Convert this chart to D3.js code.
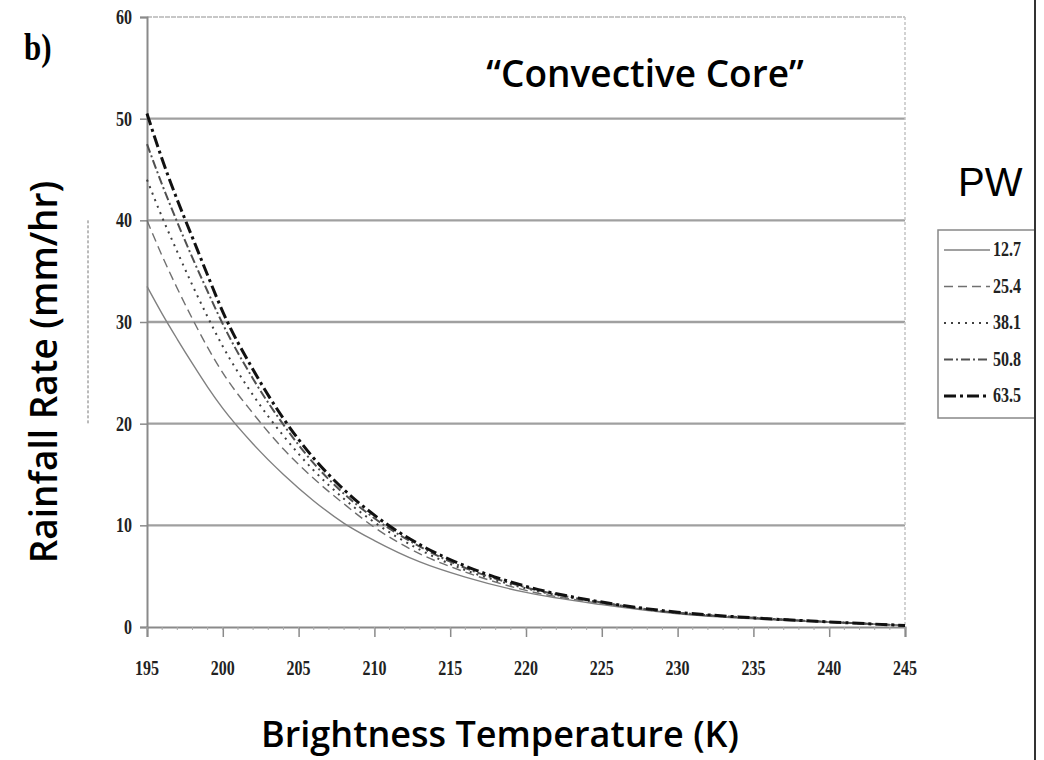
<!DOCTYPE html>
<html>
<head>
<meta charset="utf-8">
<script src="https://cdn.jsdelivr.net/npm/d3@7"></script>
<style>
  body { margin: 0; background: #fff; }
  svg { display: block; }
</style>
</head>
<body>
<svg id="chart" width="1044" height="760"></svg>
<script>
// brightness temperature (K) sample points
const temps = [195, 196, 197, 198, 199, 200, 202, 204, 206, 208, 210, 213, 216, 220, 225, 230, 235, 240, 245];

// rainfall rate (mm/hr) for each PW class
const pw127 = [33.5, 30.8, 28.3, 25.9, 23.6, 21.5, 18.0, 15.0, 12.4, 10.2, 8.5, 6.4, 4.9, 3.4, 2.2, 1.3, 0.8, 0.45, 0.15];
const pw254 = [40.0, 36.5, 33.3, 30.3, 27.5, 25.0, 21.0, 17.5, 14.6, 12.1, 9.8, 7.2, 5.4, 3.6, 2.3, 1.35, 0.85, 0.5, 0.15];
const pw381 = [44.0, 40.3, 36.9, 33.6, 30.5, 27.6, 22.8, 18.8, 15.4, 12.6, 10.3, 7.6, 5.6, 3.8, 2.4, 1.4, 0.9, 0.5, 0.15];
const pw508 = [47.5, 43.5, 39.8, 36.3, 33.0, 29.8, 24.4, 19.9, 16.1, 13.1, 10.7, 7.9, 5.8, 3.9, 2.4, 1.4, 0.9, 0.5, 0.15];
const pw635 = [50.5, 46.0, 42.0, 38.3, 34.6, 31.0, 25.3, 20.5, 16.6, 13.5, 11.0, 8.1, 6.0, 4.0, 2.45, 1.45, 0.9, 0.5, 0.15];

const seriesNames = ["12.7", "25.4", "38.1", "50.8", "63.5"];
const seriesValues = [pw127, pw254, pw381, pw508, pw635];

const xTicks = [195, 200, 205, 210, 215, 220, 225, 230, 235, 240, 245];
const yTicks = [0, 10, 20, 30, 40, 50, 60];

// line styles per series
const styles = [
  { stroke: "#808080", width: 1.4, dash: null },
  { stroke: "#707070", width: 1.4, dash: "9,5" },
  { stroke: "#404040", width: 2, dash: "2,5" },
  { stroke: "#505050", width: 2, dash: "9,3,2,3" },
  { stroke: "#111", width: 3, dash: "12,4,3,4" }
];

const svg = d3.select("#chart");
const serif = "'Liberation Serif', 'Times New Roman', serif";
const sans = "'Open Sans', 'Noto Sans', sans-serif";

const x = d3.scaleLinear().domain([195, 245]).range([147, 905]);
const y = d3.scaleLinear().domain([0, 60]).range([627, 17]);

svg.append("defs").append("clipPath").attr("id", "cut")
  .append("rect").attr("x", 0).attr("y", 0).attr("width", 1035).attr("height", 760);

const g = svg.append("g");

// horizontal gridlines
g.append("g").selectAll("line")
  .data(yTicks.filter(d => d > 0))
  .enter().append("line")
  .attr("x1", x(195)).attr("x2", x(245))
  .attr("y1", d => y(d)).attr("y2", d => y(d))
  .style("stroke", d => d === 60 ? "#b5b5b5" : "#a0a0a0")
  .style("stroke-width", d => d === 60 ? 1.5 : 2.4)
  .style("stroke-dasharray", d => d === 60 ? "5,1" : null);

// right plot border (dotted)
g.append("line")
  .attr("x1", x(245)).attr("x2", x(245))
  .attr("y1", y(60)).attr("y2", y(0))
  .style("stroke", "#c4c4c4").style("stroke-width", 1.5)
  .style("stroke-dasharray", "3,2");

// y axis
const yAxis = g.append("g")
  .attr("transform", `translate(${x(195)},0)`)
  .call(d3.axisLeft(y).tickValues(yTicks).tickSize(7).tickFormat(""));
yAxis.select(".domain").style("stroke", "#8a8a8a").style("stroke-width", 2);
yAxis.selectAll(".tick line").style("stroke", "#8a8a8a").style("stroke-width", 1.5);

// x axis
const xAxis = g.append("g")
  .attr("transform", `translate(0,${y(0)})`)
  .call(d3.axisBottom(x).tickValues(xTicks).tickSize(10).tickFormat(""));
xAxis.select(".domain").style("stroke", "#8a8a8a").style("stroke-width", 2);
xAxis.selectAll(".tick line").style("stroke", "#8a8a8a").style("stroke-width", 1.5);

// minor x ticks
g.append("g").selectAll("line")
  .data(d3.range(195, 245.01, 1))
  .enter().append("line")
  .attr("x1", d => x(d)).attr("x2", d => x(d))
  .attr("y1", y(0)).attr("y2", y(0) + 3)
  .style("stroke", "#aaa").style("stroke-width", 1);

// tick labels (stretched serif like the scan)
g.append("g").selectAll("text")
  .data(yTicks)
  .enter().append("text")
  .attr("transform", d => `translate(132,${y(d) + 7}) scale(1,1.35)`)
  .attr("text-anchor", "end")
  .style("font-family", serif).style("font-weight", "bold")
  .style("font-size", "16px").style("fill", "#222")
  .text(d => d);

g.append("g").selectAll("text")
  .data(xTicks)
  .enter().append("text")
  .attr("transform", d => `translate(${x(d)},${y(0) + 48}) scale(1,1.35)`)
  .attr("text-anchor", "middle")
  .style("font-family", serif).style("font-weight", "bold")
  .style("font-size", "16px").style("fill", "#222")
  .text(d => d);

// series lines
const line = d3.line()
  .x((d, i) => x(temps[i]))
  .y(d => y(d))
  .curve(d3.curveMonotoneX);

g.append("g").selectAll("path")
  .data(seriesValues)
  .enter().append("path")
  .attr("d", d => line(d))
  .style("fill", "none")
  .style("stroke", (d, i) => styles[i].stroke)
  .style("stroke-width", (d, i) => styles[i].width)
  .style("stroke-dasharray", (d, i) => styles[i].dash);

// panel letter
svg.append("text")
  .attr("transform", "translate(24,60) scale(1,1.2)")
  .style("font-family", serif).style("font-weight", "bold")
  .style("font-size", "31px").text("b)");

// in-plot title
svg.append("text")
  .attr("x", 645).attr("y", 87)
  .attr("text-anchor", "middle")
  .style("font-family", sans).style("font-weight", "600")
  .style("font-size", "37px").text("\u201cConvective Core\u201d");

// axis titles
svg.append("text")
  .attr("transform", "translate(57,372) rotate(-90)")
  .attr("text-anchor", "middle")
  .style("font-family", sans).style("font-weight", "600")
  .style("font-size", "37px").text("Rainfall Rate (mm/hr)");

svg.append("text")
  .attr("x", 500).attr("y", 747)
  .attr("text-anchor", "middle")
  .style("font-family", sans).style("font-weight", "600")
  .style("font-size", "36px").text("Brightness Temperature (K)");

// small dashed mark left of the y labels
svg.append("line")
  .attr("x1", 88).attr("x2", 88)
  .attr("y1", y(40)).attr("y2", y(20))
  .style("stroke", "#777").style("stroke-width", 1)
  .style("stroke-dasharray", "3,2");

// legend (cut at the right edge like the source)
const leg = svg.append("g").attr("clip-path", "url(#cut)");

leg.append("text")
  .attr("x", 958).attr("y", 196)
  .style("font-family", "'Liberation Sans', Arial, sans-serif")
  .style("font-size", "40px").text("PW");

leg.append("rect")
  .attr("x", 938).attr("y", 230).attr("width", 120).attr("height", 188)
  .style("fill", "none").style("stroke", "#888").style("stroke-width", 1.5);

const legRows = leg.selectAll("g.row")
  .data(seriesNames)
  .enter().append("g")
  .attr("class", "row")
  .attr("transform", (d, i) => `translate(0,${250 + i * 36.5})`);

legRows.append("line")
  .attr("x1", 944).attr("x2", 990)
  .style("stroke", (d, i) => styles[i].stroke)
  .style("stroke-width", (d, i) => styles[i].width)
  .style("stroke-dasharray", (d, i) => styles[i].dash);

legRows.append("text")
  .attr("transform", "translate(993,6) scale(1,1.25)")
  .style("font-family", serif).style("font-weight", "bold")
  .style("font-size", "16px").style("fill", "#222")
  .text(d => d);

// black frame line at the cut
svg.append("line")
  .attr("x1", 1035).attr("x2", 1035).attr("y1", 0).attr("y2", 760)
  .style("stroke", "#333").style("stroke-width", 2);
</script>
</body>
</html>
